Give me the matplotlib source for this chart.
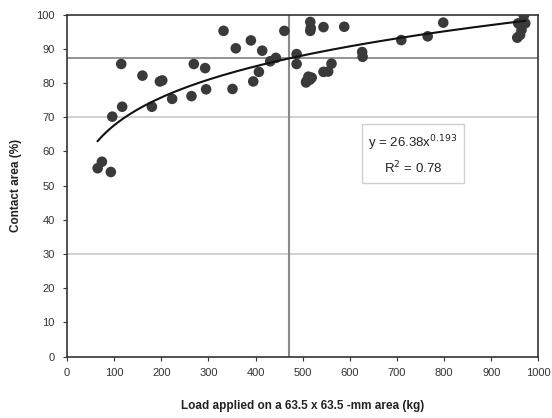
import numpy as np
import matplotlib.pyplot as plt

plt.rcParams['font.family'] = ['Liberation Sans', 'DejaVu Sans']

# load (kg) and contact area (%)
load = [65, 74, 93, 96, 115, 117, 160, 180, 197, 202, 223, 264, 269, 293, 295,
        332, 351, 358, 390, 395, 407, 414, 431, 443, 461, 487, 487,
        507, 508, 512, 515, 516, 516, 517, 519, 544, 544, 554, 561, 588,
        626, 627, 709, 765, 798, 955, 957, 961, 964, 969, 972]
area = [55.1, 57.0, 54.0, 70.2, 85.6, 73.1, 82.2, 73.1, 80.5, 80.8, 75.4, 76.2, 85.6, 84.4, 78.2,
        95.3, 78.3, 90.2, 92.5, 80.5, 83.3, 89.5, 86.4, 87.4, 95.3, 88.5, 85.6,
        80.2, 80.6, 81.9, 81.0, 97.9, 95.3, 96.1, 81.6, 83.3, 96.4, 83.4, 85.7, 96.5,
        89.1, 87.7, 92.6, 93.7, 97.7, 93.3, 97.5, 94.1, 95.6, 99.7, 97.5]

# reference lines drawn on the chart
ref_x = 470
ref_y = 87.3
light_y = [30, 70]

fig = plt.figure(figsize=(5.52, 4.18), dpi=100)
ax = fig.add_axes([0.1214, 0.147, 0.8541, 0.8176])

for yy in light_y:
    ax.axhline(yy, color='#c8c8c8', lw=1.2, zorder=1)
ax.axhline(ref_y, color='#8a8a8a', lw=1.3, zorder=1)
ax.axvline(ref_x, color='#8a8a8a', lw=1.5, zorder=1)

ax.scatter(load, area, s=58, color='#3a3a3a', edgecolors='none', zorder=3)

# power-law trend line fitted to the points
b, lna = np.polyfit(np.log(load), np.log(area), 1)
xs = np.linspace(min(load), max(load), 200)
ax.plot(xs, np.exp(lna) * xs ** b, color='#111111', lw=1.5, zorder=4)

ax.text(734, 59, 'y = 26.38x$^{0.193}$\nR$^2$ = 0.78', ha='center', va='center',
        fontsize=9.5, linespacing=1.5, color='#222222',
        bbox=dict(boxstyle='square,pad=0.5', fc='white', ec='#d0d0d0'), zorder=5)

ax.set_xlim(0, 1000)
ax.set_ylim(0, 100)
ax.set_xticks(range(0, 1001, 100))
ax.set_yticks(range(0, 101, 10))
ax.tick_params(labelsize=8, colors='#333333', length=3, direction='out')
ax.tick_params(axis='y', pad=6)
ax.tick_params(axis='x', pad=5)
for s in ax.spines.values():
    s.set_color('#333333')
    s.set_linewidth(1.2)

ax.set_xlabel('Load applied on a 63.5 x 63.5 -mm area (kg)', fontsize=8.5,
              fontweight='bold', color='#222222', labelpad=16)
ax.set_ylabel('Contact area (%)', fontsize=8.5, fontweight='bold', color='#222222',
              labelpad=10)

fig.savefig('out.png', dpi=100)
